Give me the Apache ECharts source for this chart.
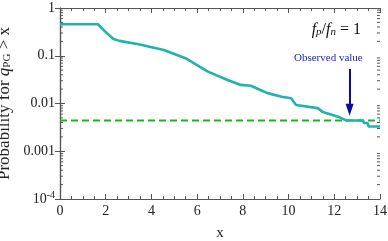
<!DOCTYPE html>
<html><head><meta charset="utf-8">
<script src="https://cdn.jsdelivr.net/npm/echarts@6/dist/echarts.min.js"></script>
<style>html,body{margin:0;padding:0;background:#fff}#c{width:388px;height:241px}</style>
</head><body><div id="c"></div>
<script>
// Curve: probability for q_PG > x
var curveX = [0, 1.66, 1.98, 2.34, 2.6, 3.44, 4.54, 5.49, 6.45, 7.33, 7.91, 8.35, 8.79, 9.08, 9.7, 10.11, 10.33, 11.28, 11.5, 12.16, 12.53, 13.26, 13.3, 13.45, 13.5, 14];
var curveY = [0.457, 0.457, 0.32, 0.225, 0.205, 0.174, 0.132, 0.089, 0.047, 0.031, 0.0245, 0.0236, 0.019, 0.0165, 0.0139, 0.0129, 0.0093, 0.008, 0.0066, 0.0053, 0.0044, 0.0044, 0.0039, 0.0039, 0.0033, 0.0033];
// Observed-value threshold (dashed line)
var thresholdY = 0.0044;
var xRange = [0, 14];
// Annotation: arrow (x, from y, to y) and label position
var arrowX = 12.67, arrowFromY = 0.053, arrowToY = 0.0074;
var annotText = "Observed value", annotX = 11.74, annotY = 0.088;
var xTicks = [0, 2, 4, 6, 8, 10, 12, 14];
var yTicks = [1e-4, 0.001, 0.01, 0.1, 1];
var yMinor = [];
for (var d = -4; d < 0; d++) for (var m = 2; m <= 9; m++) yMinor.push(m * Math.pow(10, d));

var serif = "Liberation Serif";
var axisColor = "#555";
var chart = echarts.init(document.getElementById('c'));
var pts = curveX.map(function (x, i) { return [x, curveY[i]]; });

chart.setOption({
  animation: false,
  textStyle: { fontFamily: serif },
  grid: { left: 60, right: 8, top: 8, bottom: 42, containLabel: false, outerBoundsMode: 'none' },
  title: {
    text: '{i|f}{s|p}{n|/}{i|f}{s|n}{n| = 1}',
    right: 22, top: 16,
    textStyle: { fontWeight: 'normal', rich: {
      i: { fontFamily: serif, fontStyle: 'italic', fontWeight: 'normal', fontSize: 16, color: '#111' },
      s: { fontFamily: serif, fontStyle: 'italic', fontWeight: 'normal', fontSize: 11, color: '#111', verticalAlign: 'bottom', padding: [6, 0, 0, 0] },
      n: { fontFamily: serif, fontWeight: 'normal', fontSize: 16, color: '#111' }
    } }
  },
  xAxis: [{
    type: 'value', min: xRange[0], max: xRange[1], interval: 2,
    name: 'x', nameLocation: 'middle', nameGap: 27,
    nameTextStyle: { fontFamily: serif, fontSize: 15, color: '#222' },
    axisLine: { lineStyle: { color: axisColor, width: 1.2 } },
    axisTick: { inside: true, length: 5, lineStyle: { color: axisColor } },
    minorTick: { show: true, splitNumber: 4, length: 3, lineStyle: { color: axisColor } },
    axisLabel: { fontFamily: serif, fontSize: 14, color: '#222', margin: 5 },
    splitLine: { show: false }
  }, {
    type: 'value', position: 'top', min: xRange[0], max: xRange[1], interval: 2,
    axisLine: { show: true, lineStyle: { color: axisColor, width: 1.2 } },
    axisTick: { inside: true, length: 5, lineStyle: { color: axisColor } },
    minorTick: { show: true, splitNumber: 4, length: 3, lineStyle: { color: axisColor } },
    axisLabel: { show: false }, splitLine: { show: false }
  }],
  yAxis: [{
    type: 'log', logBase: 10, min: yTicks[0], max: yTicks[yTicks.length - 1],
    name: '{n|Probability for }{q|q}{s|PG}{n| > x}',
    nameLocation: 'middle', nameGap: 35, nameRotate: 90,
    nameTextStyle: { rich: {
      n: { fontFamily: serif, fontSize: 17, color: '#222' },
      q: { fontFamily: serif, fontStyle: 'italic', fontSize: 17, color: '#222' },
      s: { fontFamily: serif, fontSize: 11, color: '#222', verticalAlign: 'bottom', padding: [6, 0, 0, 0] }
    } },
    axisLine: { show: true, lineStyle: { color: axisColor, width: 1.2 } },
    axisTick: { inside: true, length: 5, lineStyle: { color: axisColor } },
    axisLabel: {
      fontFamily: serif, fontSize: 14, color: '#222', margin: 5,
      formatter: function (v) {
        var e = Math.round(Math.log10(v));
        if (e === 0) return '1';
        if (e === -1) return '0.1';
        if (e === -2) return '0.01';
        if (e === -3) return '0.001';
        return '10{sup|' + e + '}';
      },
      rich: { sup: { fontFamily: serif, fontSize: 10, color: '#222', verticalAlign: 'top', padding: [0, 0, 8, 0] } }
    },
    splitLine: { show: false }
  }, {
    type: 'log', logBase: 10, position: 'right', min: yTicks[0], max: yTicks[yTicks.length - 1],
    axisLine: { show: true, lineStyle: { color: axisColor, width: 1.2 } },
    axisTick: { inside: true, length: 5, lineStyle: { color: axisColor } },
    axisLabel: { show: false }, splitLine: { show: false }
  }],
  series: [{
    type: 'custom', silent: true, clip: false,
    data: yMinor.map(function (v) { return [v]; }),
    encode: { y: 0 },
    renderItem: function (params, api) {
      var l = api.coord([xRange[0], api.value(0)]);
      var r = api.coord([xRange[1], api.value(0)]);
      var st = { stroke: axisColor, lineWidth: 1 };
      return { type: 'group', children: [
        { type: 'line', shape: { x1: l[0], y1: l[1], x2: l[0] + 3, y2: l[1] }, style: st },
        { type: 'line', shape: { x1: r[0], y1: r[1], x2: r[0] - 3, y2: r[1] }, style: st }
      ] };
    }
  }, {
    type: 'line', data: [[xRange[0], thresholdY], [xRange[1], thresholdY]],
    symbol: 'none', silent: true,
    lineStyle: { color: '#1db31d', width: 2, type: [7, 4] }
  }, {
    type: 'line', data: pts, symbol: 'none', silent: true,
    lineStyle: { color: '#1fb3ad', width: 2.6 },
    markLine: {
      silent: true, animation: false,
      symbol: ['none', 'triangle'], symbolSize: [8, 12],
      lineStyle: { color: '#0a0aa5', width: 2, type: 'solid' },
      label: { show: false },
      data: [[{ coord: [arrowX, arrowFromY] }, { coord: [arrowX, arrowToY] }]]
    },
    markPoint: {
      symbol: 'rect', symbolSize: 1, itemStyle: { color: 'transparent' },
      data: [{ coord: [annotX, annotY], label: { show: true, formatter: annotText, position: 'inside',
        fontFamily: serif, fontSize: 11, color: '#2222cc' } }]
    }
  }]
});
</script></body></html>
